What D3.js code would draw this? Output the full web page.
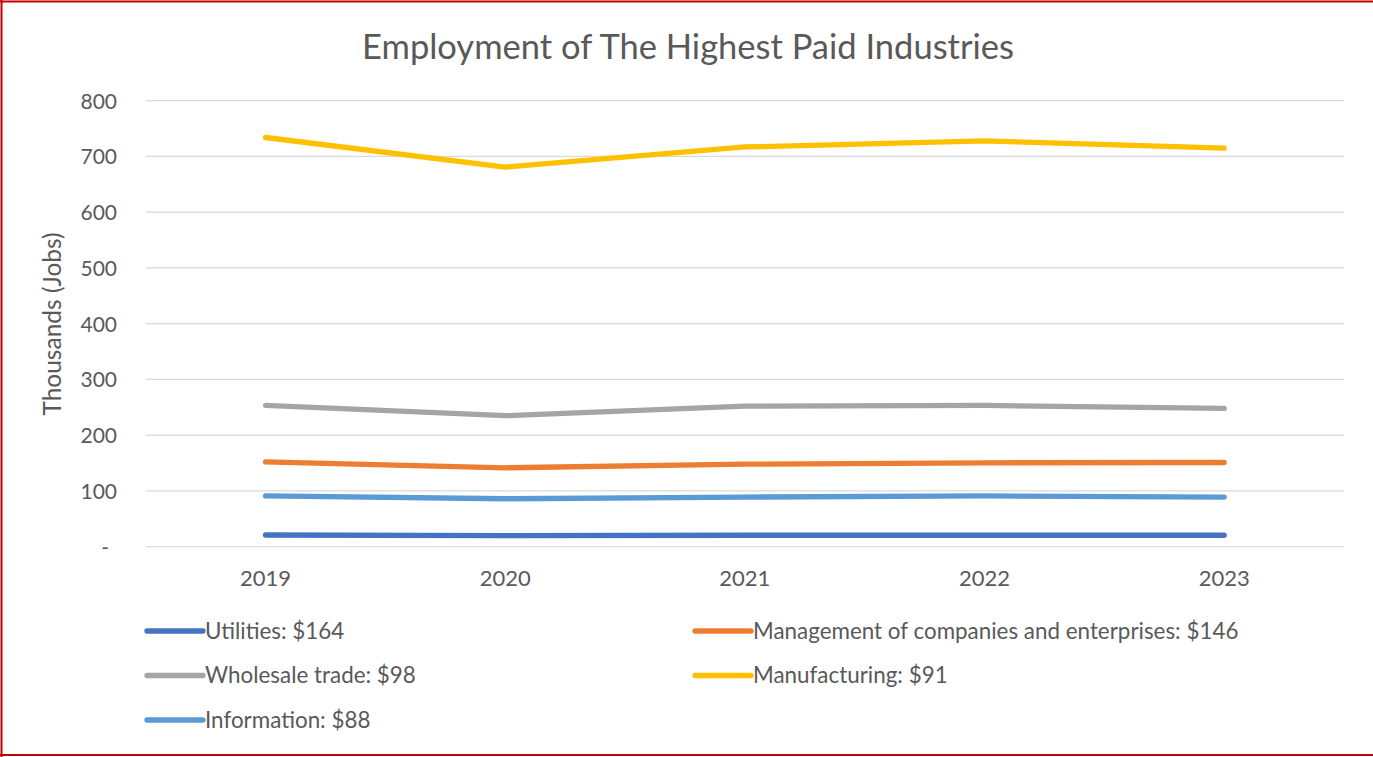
<!DOCTYPE html>
<html>
<head>
<meta charset="utf-8">
<script src="https://cdn.jsdelivr.net/npm/d3@7"></script>
<style>
  html, body { margin: 0; padding: 0; background: #fff; }
  svg { display: block; }
  text { font-family: Lato, "Open Sans", sans-serif; fill: #595959; }
</style>
</head>
<body>
<svg width="1373" height="757"></svg>
<script>
const years = [ '2019', '2020', '2021', '2022', '2023' ];

const utilities = [ 21, 20, 20.5, 20.5, 20.5 ];
const management = [ 152, 141.5, 148, 150.5, 151 ];
const wholesale = [ 253.5, 235, 252, 253.5, 248 ];
const manufacturing = [ 734, 681, 717, 728, 715 ];
const information = [ 91, 86, 89, 91, 89 ];

const seriesNames = [ 'Utilities: $164', 'Management of companies and enterprises: $146',
                      'Wholesale trade: $98', 'Manufacturing: $91', 'Information: $88' ];
const seriesColors = [ '#4472c4', '#ed7d31', '#a5a5a5', '#ffc000', '#5b9bd5' ];
const yTicks = [ 0, 100, 200, 300, 400, 500, 600, 700, 800 ];

const series = [ utilities, management, wholesale, manufacturing, information ]
  .map( ( values, i ) => ( { name: seriesNames[ i ], color: seriesColors[ i ], values: values } ) );

const svg = d3.select( 'svg' );

// red frame round the chart
svg.append( 'line' ).attr( 'x1', 0 ).attr( 'x2', 1373 ).attr( 'y1', 1.5 ).attr( 'y2', 1.5 )
  .attr( 'stroke', '#c00000' ).attr( 'stroke-width', 2 );
svg.append( 'line' ).attr( 'x1', 1.5 ).attr( 'x2', 1.5 ).attr( 'y1', 0 ).attr( 'y2', 757 )
  .attr( 'stroke', '#c00000' ).attr( 'stroke-width', 2 );
svg.append( 'line' ).attr( 'x1', 0 ).attr( 'x2', 1373 ).attr( 'y1', 755 ).attr( 'y2', 755 )
  .attr( 'stroke', '#c00000' ).attr( 'stroke-width', 2 );

const x = d3.scaleBand()
  .domain( years )
  .range( [ 145.7, 1344 ] );

const y = d3.scaleLinear()
  .domain( [ 0, 800 ] )
  .range( [ 546.7, 100.7 ] );

const xPos = ( d ) => x( d ) + x.bandwidth() / 2;

// gridlines
svg.append( 'g' )
  .selectAll( 'line' )
  .data( yTicks )
  .join( 'line' )
  .attr( 'x1', 145.7 )
  .attr( 'x2', 1344 )
  .attr( 'y1', d => y( d ) )
  .attr( 'y2', d => y( d ) )
  .attr( 'stroke', '#d9d9d9' )
  .attr( 'stroke-width', 1.3 );

// y axis labels
const yAxis = d3.axisLeft( y )
  .tickValues( yTicks )
  .tickSize( 0 )
  .tickPadding( 0 )
  .tickFormat( d => d === 0 ? '-' : d );

const yG = svg.append( 'g' )
  .attr( 'transform', 'translate(117,0)' )
  .call( yAxis );
yG.select( '.domain' ).remove();
yG.selectAll( 'text' )
  .attr( 'font-size', '21px' )
  .attr( 'font-family', 'Lato, sans-serif' )
  .attr( 'fill', '#595959' )
  .attr( 'dy', '0.35em' );
yG.selectAll( 'text' ).filter( d => d === 0 ).attr( 'dx', '-8px' );

// x axis labels
const xAxis = d3.axisBottom( x ).tickSize( 0 ).tickPadding( 0 );
const xG = svg.append( 'g' )
  .attr( 'transform', 'translate(0,570)' )
  .call( xAxis );
xG.select( '.domain' ).remove();
xG.selectAll( 'text' )
  .attr( 'font-size', '22px' )
  .attr( 'font-family', 'Lato, sans-serif' )
  .attr( 'fill', '#595959' )
  .attr( 'dy', '0.71em' );

// title
svg.append( 'text' )
  .attr( 'x', 688 )
  .attr( 'y', 59 )
  .attr( 'text-anchor', 'middle' )
  .attr( 'font-size', '34.5px' )
  .text( 'Employment of The Highest Paid Industries' );

// y axis title
svg.append( 'text' )
  .attr( 'transform', 'translate(61,324) rotate(-90)' )
  .attr( 'text-anchor', 'middle' )
  .attr( 'font-size', '24.5px' )
  .text( 'Thousands (Jobs)' );

// lines
const line = d3.line()
  .x( ( d, i ) => xPos( years[ i ] ) )
  .y( d => y( d ) );

svg.append( 'g' )
  .selectAll( 'path' )
  .data( series )
  .join( 'path' )
  .attr( 'd', d => line( d.values ) )
  .attr( 'fill', 'none' )
  .attr( 'stroke', d => d.color )
  .attr( 'stroke-width', 5.3 )
  .attr( 'stroke-linecap', 'round' )
  .attr( 'stroke-linejoin', 'round' );

// legend, two columns
const legend = svg.append( 'g' )
  .selectAll( 'g' )
  .data( series )
  .join( 'g' )
  .attr( 'transform', ( d, i ) => {
    let col = i % 2;
    let row = Math.floor( i / 2 );
    return 'translate(' + ( col === 0 ? 145 : 693 ) + ',' + ( 631 + row * 44.5 ) + ')';
  } );

legend.append( 'line' )
  .attr( 'x1', 2 )
  .attr( 'x2', 58 )
  .attr( 'stroke', d => d.color )
  .attr( 'stroke-width', 5.3 )
  .attr( 'stroke-linecap', 'round' );

legend.append( 'text' )
  .attr( 'x', 60 )
  .attr( 'dy', '0.35em' )
  .attr( 'font-size', '22.4px' )
  .text( d => d.name );
</script>
</body>
</html>
